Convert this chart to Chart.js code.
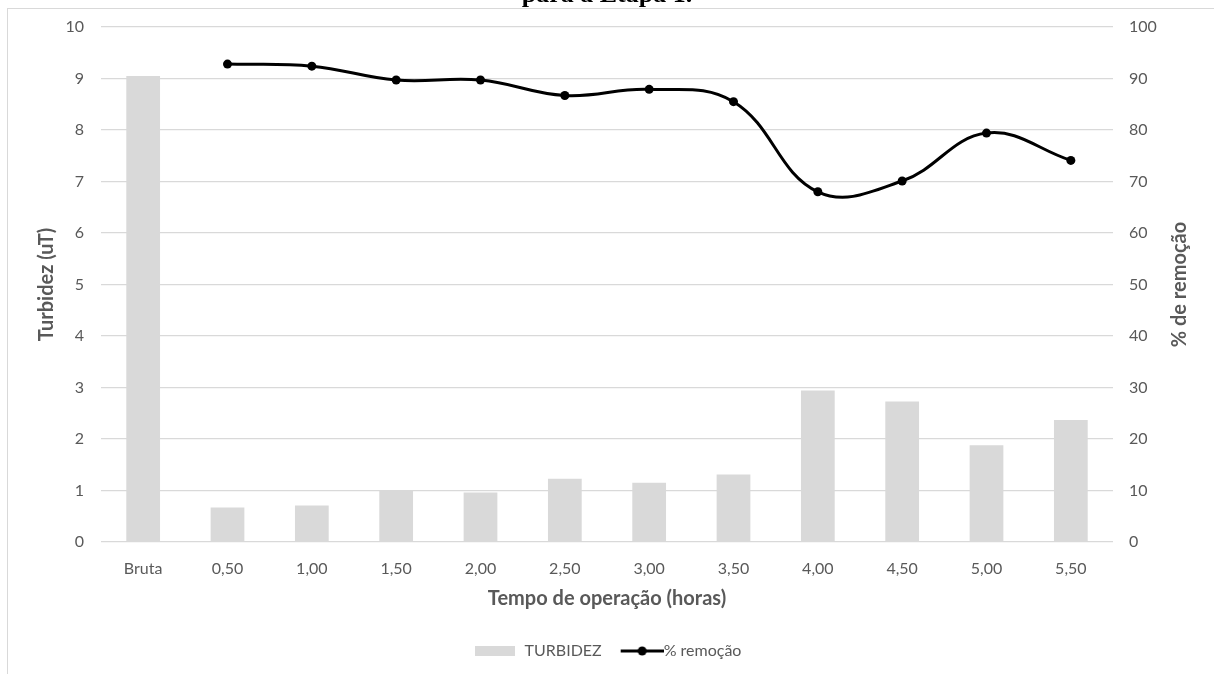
<!DOCTYPE html>
<html>
<head>
<meta charset="utf-8">
<script src="https://cdn.jsdelivr.net/npm/chart.js@4/dist/chart.umd.min.js"></script>
<style>
  html, body { margin: 0; padding: 0; background: #ffffff; }
  #wrap { position: relative; width: 1214px; height: 674px; overflow: hidden; }
</style>
</head>
<body>
<div id="wrap"><canvas id="chart" width="1214" height="674"></canvas></div>
<script>
// Operating time categories (raw water + sampling times in hours)
const categories = ['Bruta', '0,50', '1,00', '1,50', '2,00', '2,50', '3,00', '3,50', '4,00', '4,50', '5,00', '5,50'];
// Turbidity (uT) per sample
const turbidez = [9.05, 0.67, 0.71, 0.99, 0.96, 1.23, 1.15, 1.31, 2.94, 2.73, 1.88, 2.37];
// Removal percentage (no value for raw water)
const remocao = [null, 92.8, 92.4, 89.7, 89.7, 86.7, 87.9, 85.5, 68.0, 70.1, 79.4, 74.1];
// Axis ranges
const turbidezAxis = { min: 0, max: 10, step: 1 };
const remocaoAxis = { min: 0, max: 100, step: 10 };

const GRAY_TEXT = '#595959';
const GRID = '#d9d9d9';
const BAR = '#d9d9d9';
const FONT = 'Lato';
const TITLE_FONT = { family: FONT, size: 20, weight: 'bold' };

// Small canvases used as legend symbols
function swatch(kind) {
  const c = document.createElement('canvas');
  const g = c.getContext('2d');
  if (kind === 'bar') {
    c.width = 40; c.height = 10;
    g.fillStyle = BAR;
    g.fillRect(0, 0, 40, 10);
  } else {
    // line symbol sits to the right of the slot, close to its label
    c.width = 60; c.height = 12;
    g.strokeStyle = '#000'; g.lineWidth = 3;
    g.beginPath(); g.moveTo(17, 6); g.lineTo(60, 6); g.stroke();
    g.fillStyle = '#000';
    g.beginPath(); g.arc(38.5, 6, 4.5, 0, Math.PI * 2); g.fill();
  }
  return c;
}
const barSwatch = swatch('bar');
const lineSwatch = swatch('line');

// Frame, caption line above it, and the right axis title read bottom-to-top
const framePlugin = {
  id: 'frame',
  beforeDraw(chart) {
    const ctx = chart.ctx;
    ctx.save();
    ctx.fillStyle = '#ffffff';
    ctx.fillRect(0, 0, chart.width, chart.height);
    ctx.strokeStyle = '#d9d9d9';
    ctx.lineWidth = 1;
    ctx.strokeRect(7.5, 8.5, chart.width + 20, chart.height + 20);
    ctx.fillStyle = '#000000';
    ctx.font = 'bold 26px "Liberation Serif"';
    ctx.textAlign = 'center';
    ctx.textBaseline = 'alphabetic';
    ctx.fillText('para a Etapa 1.', 607, 2);
    ctx.restore();
  },
  afterDraw(chart) {
    const ctx = chart.ctx;
    const area = chart.chartArea;
    ctx.save();
    ctx.translate(1180, (area.top + area.bottom) / 2);
    ctx.rotate(-Math.PI / 2);
    ctx.fillStyle = GRAY_TEXT;
    ctx.font = 'bold ' + TITLE_FONT.size + 'px ' + FONT;
    ctx.textAlign = 'center';
    ctx.textBaseline = 'middle';
    ctx.fillText('% de remoção', 0, 0);
    ctx.restore();
  }
};

new Chart(document.getElementById('chart'), {
  type: 'bar',
  data: {
    labels: categories,
    datasets: [
      {
        type: 'bar',
        label: 'TURBIDEZ',
        data: turbidez,
        yAxisID: 'y',
        backgroundColor: BAR,
        borderWidth: 0,
        barPercentage: 0.4,
        categoryPercentage: 1.0,
        order: 2
      },
      {
        type: 'line',
        label: '% remoção',
        data: remocao,
        yAxisID: 'y1',
        borderColor: '#000000',
        borderWidth: 3,
        backgroundColor: '#000000',
        pointRadius: 4.5,
        pointBorderWidth: 0,
        pointBackgroundColor: '#000000',
        tension: 0.4,
        fill: false,
        order: 1
      }
    ]
  },
  options: {
    responsive: false,
    animation: false,
    devicePixelRatio: 1,
    layout: { padding: { top: 27, left: 0, right: 0, bottom: 5 } },
    plugins: {
      tooltip: { enabled: false },
      title: { display: false },
      legend: {
        position: 'bottom',
        labels: {
          usePointStyle: true,
          pointStyleWidth: 44,
          padding: 10,
          color: GRAY_TEXT,
          font: { family: FONT, size: 16 },
          generateLabels() {
            return [
              { text: 'TURBIDEZ', pointStyle: barSwatch, fillStyle: BAR, strokeStyle: BAR, lineWidth: 0, hidden: false, datasetIndex: 0, fontColor: GRAY_TEXT },
              { text: '% remoção', pointStyle: lineSwatch, fillStyle: '#000', strokeStyle: '#000', lineWidth: 0, hidden: false, datasetIndex: 1, fontColor: GRAY_TEXT }
            ];
          }
        }
      }
    },
    scales: {
      x: {
        grid: { display: false },
        border: { display: false },
        ticks: { color: GRAY_TEXT, font: { family: FONT, size: 16 }, padding: 9, maxRotation: 0, autoSkip: false },
        title: {
          display: true, text: 'Tempo de operação (horas)', color: GRAY_TEXT,
          font: TITLE_FONT, padding: { top: 0, bottom: 22 }
        },
        afterFit(s) { s.height = 91; }
      },
      y: {
        position: 'left',
        min: turbidezAxis.min, max: turbidezAxis.max,
        ticks: { stepSize: turbidezAxis.step, color: GRAY_TEXT, font: { family: FONT, size: 16 }, padding: 17 },
        grid: { color: GRID, lineWidth: 1.3, drawTicks: false },
        border: { display: false },
        title: {
          display: true, text: 'Turbidez (uT)', color: GRAY_TEXT,
          font: TITLE_FONT, padding: { top: 35 }
        },
        afterFit(s) { s.width = 101; }
      },
      y1: {
        position: 'right',
        min: remocaoAxis.min, max: remocaoAxis.max,
        ticks: { stepSize: remocaoAxis.step, color: GRAY_TEXT, font: { family: FONT, size: 16 }, padding: 16 },
        grid: { display: false, drawTicks: false },
        border: { display: false },
        title: { display: false },
        afterFit(s) { s.width = 101; }
      }
    }
  },
  plugins: [framePlugin]
});
</script>
</body>
</html>
